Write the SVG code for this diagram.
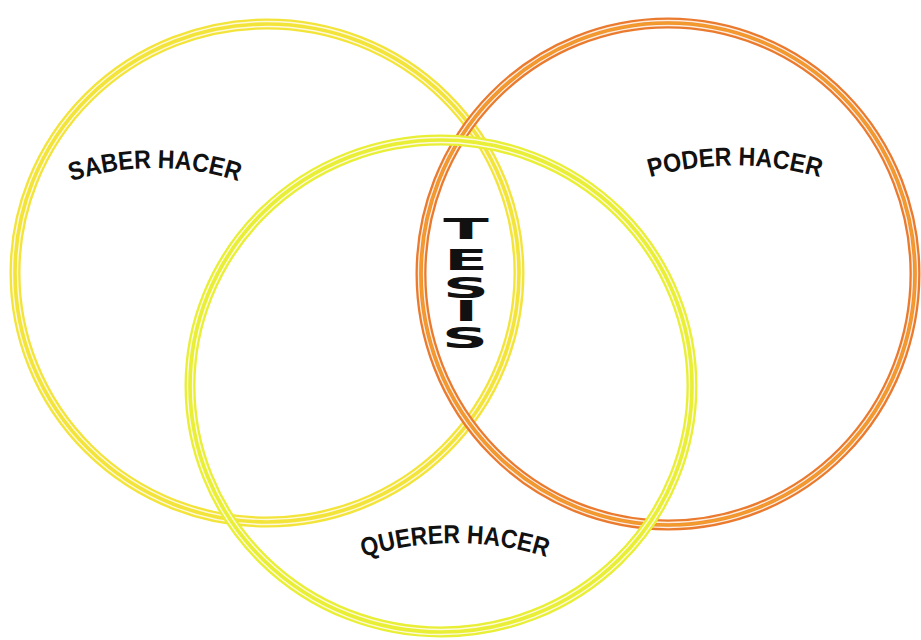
<svg xmlns="http://www.w3.org/2000/svg" width="921" height="640" viewBox="0 0 921 640">
<defs>
<style>
.band{fill:none;stroke-width:11}
.gap{fill:none;stroke:#fffaf0;stroke-width:1.4;opacity:0.9}
.lbl{font-family:"Liberation Sans",Arial,sans-serif;font-weight:bold;font-size:26px;fill:#111}
.tesis{font-family:"DejaVu Sans","Liberation Sans",sans-serif;font-weight:bold;font-size:29px;fill:#111;text-anchor:middle}
</style>
<path id="arcSaber" d="M55,187.4 A268,268 0 0 1 255,187.4"/>
<path id="arcPoder" d="M635,182.1 A309,309 0 0 1 835,182.1"/>
<path id="arcQuerer" d="M345,563.5 A307,307 0 0 1 565,563.5"/>
</defs>
<rect width="921" height="640" fill="#ffffff"/>
<g id="saber">
<ellipse cx="267" cy="273" rx="252" ry="249" class="band" stroke="#f3e43a"/>
<ellipse cx="267" cy="273" rx="249.5" ry="246.5" class="gap"/>
<ellipse cx="267" cy="273" rx="254.5" ry="251.5" class="gap"/>
<text class="lbl"><textPath href="#arcSaber" startOffset="50%" text-anchor="middle" textLength="170" lengthAdjust="spacingAndGlyphs">SABER HACER</textPath></text>
</g>
<g id="poder">
<ellipse cx="668" cy="274" rx="247" ry="251" class="band" stroke="#ea7a2e"/>
<ellipse cx="668" cy="274" rx="247" ry="251" fill="none" stroke="#f39a2c" stroke-width="3"/>
<ellipse cx="668" cy="274" rx="244.5" ry="248.5" class="gap"/>
<ellipse cx="668" cy="274" rx="249.5" ry="253.5" class="gap"/>
<text class="lbl"><textPath href="#arcPoder" startOffset="50%" text-anchor="middle" textLength="172" lengthAdjust="spacingAndGlyphs">PODER HACER</textPath></text>
</g>
<g id="querer">
<ellipse cx="441" cy="386" rx="251" ry="246" class="band" stroke="#e8ef34"/>
<ellipse cx="441" cy="386" rx="248.5" ry="243.5" class="gap"/>
<ellipse cx="441" cy="386" rx="253.5" ry="248.5" class="gap"/>
<text class="lbl"><textPath href="#arcQuerer" startOffset="50%" text-anchor="middle" textLength="186" lengthAdjust="spacingAndGlyphs">QUERER HACER</textPath></text>
</g>
<g id="tesis" class="tesis">
<text transform="translate(466,239) scale(2.3,1)">T</text>
<text transform="translate(466,270) scale(2.2,1)">E</text>
<text transform="translate(466,298) scale(2.2,1)">S</text>
<text transform="translate(466,321) scale(2.2,1)">I</text>
<text transform="translate(465,348) scale(2.2,1)">S</text>
</g>
</svg>
